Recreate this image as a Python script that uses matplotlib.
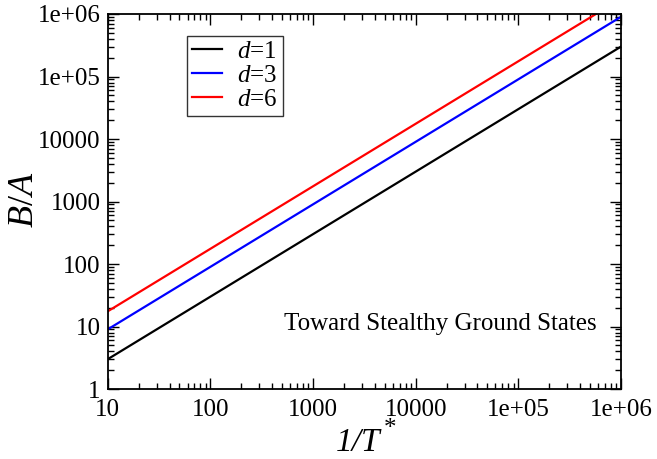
import matplotlib
matplotlib.use('Agg')
import matplotlib.pyplot as plt
from matplotlib.ticker import FixedLocator, FixedFormatter, LogLocator, NullFormatter

plt.rcParams['font.family'] = 'Liberation Serif'
plt.rcParams['mathtext.fontset'] = 'custom'
plt.rcParams['mathtext.rm'] = 'Liberation Serif'
plt.rcParams['mathtext.it'] = 'Liberation Serif:italic'

# data (straight lines on log-log axes)
inv_T = [10, 1e6]
ba_d1 = [3.0, 3.0e5]
ba_d3 = [9.0, 9.0e5]
ba_d6 = [17.5, 1.75e6]

tick_vals = [1, 10, 100, 1000, 10000, 1e5, 1e6]
tick_labels = ['1', '10', '100', '1000', '10000', '1e+05', '1e+06']

fig = plt.figure(figsize=(6.57, 4.59), dpi=100)
ax = fig.add_axes([0.164, 0.1525, 0.781, 0.817])

ax.plot(inv_T, ba_d1, color='black', lw=1.6, label='$d$=1')
ax.plot(inv_T, ba_d3, color='#0000ff', lw=1.6, label='$d$=3')
ax.plot(inv_T, ba_d6, color='#ff0000', lw=1.6, label='$d$=6')

ax.set_xscale('log')
ax.set_yscale('log')
ax.set_xlim(10, 1e6)
ax.set_ylim(1, 1e6)

ax.xaxis.set_major_locator(FixedLocator(tick_vals[1:]))
ax.xaxis.set_major_formatter(FixedFormatter(tick_labels[1:]))
ax.yaxis.set_major_locator(FixedLocator(tick_vals))
ax.yaxis.set_major_formatter(FixedFormatter(tick_labels))
for a in (ax.xaxis, ax.yaxis):
    a.set_minor_locator(LogLocator(base=10, subs=range(2, 10), numticks=20))
    a.set_minor_formatter(NullFormatter())

ax.tick_params(which='both', direction='in', top=True, right=True, width=1.0, labelsize=18)
ax.tick_params(which='major', length=8, pad=5)
ax.tick_params(axis='x', which='major', pad=7)
ax.tick_params(which='minor', length=4)
for s in ax.spines.values():
    s.set_linewidth(1.3)

ax.set_xlabel('1/T', fontsize=24, fontstyle='italic', va='center')
ax.xaxis.set_label_coords(0.488, -0.142)
fig.text(390 / 657, 1 - 429 / 459, '*', fontsize=18, ha='center', va='center')
ax.set_ylabel('$B/A$', fontsize=26, va='center')
ax.yaxis.set_label_coords(-0.162, 0.504)

ax.text(0.953, 0.173, 'Toward Stealthy Ground States', transform=ax.transAxes,
        fontsize=18, ha='right', va='center')

leg = ax.legend(loc='upper left', bbox_to_anchor=(0.155, 0.942), fontsize=18,
                frameon=True, fancybox=False, handlelength=1.2, handletextpad=0.6,
                borderpad=0.2, labelspacing=0.05, borderaxespad=0)
leg.get_frame().set_edgecolor('black')
leg.get_frame().set_linewidth(1.0)

fig.savefig('out.png', dpi=100)
plt.close()
